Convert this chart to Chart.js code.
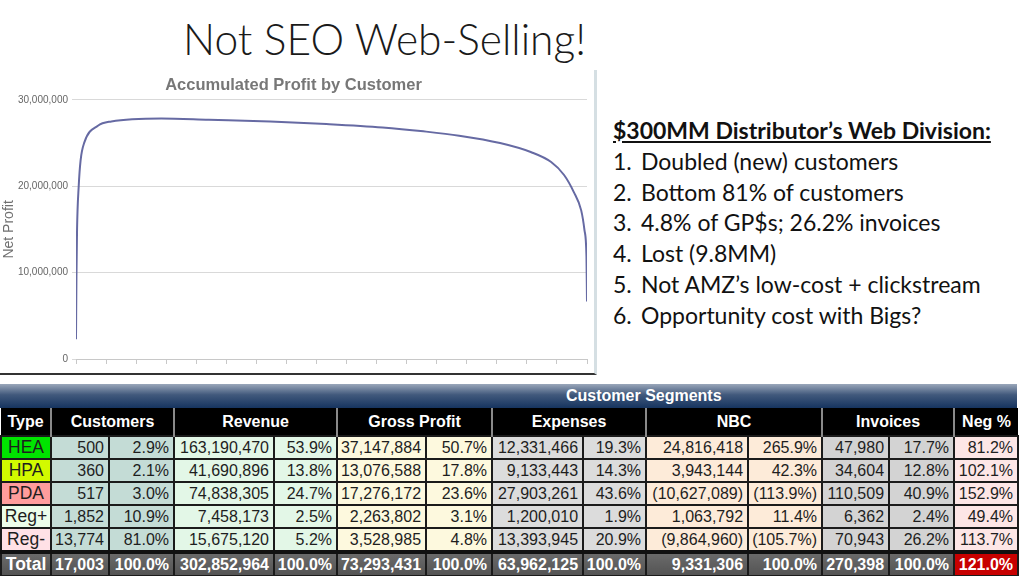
<!DOCTYPE html>
<html>
<head>
<meta charset="utf-8">
<script src="https://cdn.jsdelivr.net/npm/chart.js@4.4.1/dist/chart.umd.min.js"></script>
<style>
  html, body { margin: 0; padding: 0; }
  body {
    width: 1024px; height: 576px; overflow: hidden; background: #fff;
    position: relative; font-family: "Liberation Sans", Arial, sans-serif;
  }
  #title {
    position: absolute; left: 183px; top: 17px; margin: 0;
    font: 300 42.5px/44px Lato, sans-serif; color: #1a1a1a; white-space: nowrap;
  }
  #chart-box {
    position: absolute; left: 0; top: 70px; width: 594px; height: 303px;
    border-right: 3px solid #d5dfe3; border-bottom: 2px solid #333;
  }
  #notes {
    position: absolute; left: 613px; top: 115px;
    font: 23px/30.8px Lato, sans-serif; color: #111; white-space: nowrap;
  }
  #notes .head { font-weight: 700; text-decoration: underline; }
  #notes .num { display: inline-block; width: 28px; }

  #seg { position: absolute; left: 0; top: 384px; width: 1017px; }
  #seg .bar {
    height: 24px; line-height: 24px; color: #fff; font-weight: bold; font-size: 16px;
    background: linear-gradient(#9aa7ba, #41597c 45%, #16345f);
    position: relative;
  }
  #seg .bar span { position: absolute; left: 566px; }
  table { border-collapse: collapse; table-layout: fixed; width: 1017px; font-size: 16px; }
  th {
    background: #000; color: #fff; font-weight: bold; height: 27px; padding: 0;
    border-left: 2px solid #8a8a8a; font-size: 16px;
  }
  th:first-child { border-left: none; }
  td {
    height: 20.5px; padding: 0 4px 0 0; text-align: right; color: #1e1e1e;
    border: 2px solid #1b1b1b; white-space: nowrap; overflow: hidden;
  }
  td.t { text-align: center; padding: 0; font-size: 17.5px; }
  .c { background: #c4dcd6; }
  .r { background: #e3f7e7; }
  .g { background: #fdf9de; }
  .e { background: #dcdcdc; }
  .n { background: #fdebd9; }
  .i { background: #d3d3d3; }
  .p { background: #fde6e6; }
  tr.total td {
    background: linear-gradient(#6a6a6a, #545454); color: #fff; font-weight: bold;
    border-top: 4px solid #111;
  }
  tr.total td.red { background: #c70000; }
  tr.tail td { height: 4px; border-bottom: none; background: #c4dcd6; }
  tr.tail td:first-child { background: #1f8ad0; }
</style>
</head>
<body>
<h1 id="title">Not SEO Web-Selling!</h1>

<div id="chart-box"><canvas id="profitChart" width="594" height="303"></canvas></div>

<div id="notes">
  <div class="head">$300MM Distributor’s Web Division:</div>
  <div><span class="num">1.</span>Doubled (new) customers</div>
  <div><span class="num">2.</span>Bottom 81% of customers</div>
  <div><span class="num">3.</span>4.8% of GP$s; 26.2% invoices</div>
  <div><span class="num">4.</span>Lost (9.8MM)</div>
  <div><span class="num">5.</span>Not AMZ’s low-cost + clickstream</div>
  <div><span class="num">6.</span>Opportunity cost with Bigs?</div>
</div>

<div id="seg">
  <div class="bar"><span>Customer Segments</span></div>
  <table>
    <colgroup>
      <col style="width:50px"><col style="width:58px"><col style="width:65px">
      <col style="width:100px"><col style="width:63px"><col style="width:89px">
      <col style="width:66px"><col style="width:91px"><col style="width:63px">
      <col style="width:102px"><col style="width:74px"><col style="width:67px">
      <col style="width:65px"><col style="width:64px">
    </colgroup>
    <tr>
      <th>Type</th><th colspan="2">Customers</th><th colspan="2">Revenue</th>
      <th colspan="2">Gross Profit</th><th colspan="2">Expenses</th><th colspan="2">NBC</th>
      <th colspan="2">Invoices</th><th>Neg %</th>
    </tr>
    <tr>
      <td class="t" style="background:#00e400">HEA</td>
      <td class="c">500</td><td class="c">2.9%</td>
      <td class="r">163,190,470</td><td class="r">53.9%</td>
      <td class="g">37,147,884</td><td class="g">50.7%</td>
      <td class="e">12,331,466</td><td class="e">19.3%</td>
      <td class="n">24,816,418</td><td class="n">265.9%</td>
      <td class="i">47,980</td><td class="i">17.7%</td>
      <td class="p">81.2%</td>
    </tr>
    <tr>
      <td class="t" style="background:#d2fa00">HPA</td>
      <td class="c">360</td><td class="c">2.1%</td>
      <td class="r">41,690,896</td><td class="r">13.8%</td>
      <td class="g">13,076,588</td><td class="g">17.8%</td>
      <td class="e">9,133,443</td><td class="e">14.3%</td>
      <td class="n">3,943,144</td><td class="n">42.3%</td>
      <td class="i">34,604</td><td class="i">12.8%</td>
      <td class="p">102.1%</td>
    </tr>
    <tr>
      <td class="t" style="background:#ff9c9c">PDA</td>
      <td class="c">517</td><td class="c">3.0%</td>
      <td class="r">74,838,305</td><td class="r">24.7%</td>
      <td class="g">17,276,172</td><td class="g">23.6%</td>
      <td class="e">27,903,261</td><td class="e">43.6%</td>
      <td class="n">(10,627,089)</td><td class="n">(113.9%)</td>
      <td class="i">110,509</td><td class="i">40.9%</td>
      <td class="p">152.9%</td>
    </tr>
    <tr>
      <td class="t" style="background:#ecfdea">Reg+</td>
      <td class="c">1,852</td><td class="c">10.9%</td>
      <td class="r">7,458,173</td><td class="r">2.5%</td>
      <td class="g">2,263,802</td><td class="g">3.1%</td>
      <td class="e">1,200,010</td><td class="e">1.9%</td>
      <td class="n">1,063,792</td><td class="n">11.4%</td>
      <td class="i">6,362</td><td class="i">2.4%</td>
      <td class="p">49.4%</td>
    </tr>
    <tr>
      <td class="t" style="background:#ffe1e6">Reg-</td>
      <td class="c">13,774</td><td class="c">81.0%</td>
      <td class="r">15,675,120</td><td class="r">5.2%</td>
      <td class="g">3,528,985</td><td class="g">4.8%</td>
      <td class="e">13,393,945</td><td class="e">20.9%</td>
      <td class="n">(9,864,960)</td><td class="n">(105.7%)</td>
      <td class="i">70,943</td><td class="i">26.2%</td>
      <td class="p">113.7%</td>
    </tr>
    <tr class="total">
      <td class="t">Total</td>
      <td>17,003</td><td>100.0%</td>
      <td>302,852,964</td><td>100.0%</td>
      <td>73,293,431</td><td>100.0%</td>
      <td>63,962,125</td><td>100.0%</td>
      <td>9,331,306</td><td>100.0%</td>
      <td>270,398</td><td>100.0%</td>
      <td class="red">121.0%</td>
    </tr>
    <tr class="tail">
      <td></td><td></td><td></td><td></td><td></td><td></td><td></td>
      <td></td><td></td><td></td><td></td><td></td><td></td><td></td>
    </tr>
  </table>
</div>

<script>
// customers ranked by net profit, and running total of net profit
const customerRank = [0, 15, 35, 90, 153, 281, 729, 1176, 2838, 4420, 6460, 8330,
  10200, 11560, 12750, 14110, 15130, 15810, 16240, 16560, 16810, 16920, 16985, 17003];
const accumProfit = [2300000, 9500000, 15000000, 20000000, 23000000, 25100000, 27000000,
  27500000, 27850000, 27700000, 27500000, 27200000, 26800000, 26350000, 25850000,
  25000000, 23960000, 22800000, 21300000, 19350000, 17200000, 14900000, 11850000, 6650000];
const profitTicks = [0, 10000000, 20000000, 30000000];

const points = customerRank.map((c, i) => ({ x: c, y: accumProfit[i] }));

new Chart(document.getElementById("profitChart"), {
  type: "line",
  data: {
    datasets: [{
      data: points,
      borderColor: "#666aa3",
      borderWidth: 2,
      pointRadius: 0,
      cubicInterpolationMode: "monotone",
      fill: false
    }]
  },
  options: {
    responsive: false,
    animation: false,
    layout: { padding: { left: 0, right: 7, top: 0, bottom: 9 } },
    plugins: {
      legend: { display: false },
      tooltip: { enabled: false },
      title: {
        display: true,
        text: "Accumulated Profit by Customer",
        color: "#777",
        font: { family: "Liberation Sans", size: 16.5, weight: "bold" },
        padding: { top: 6, bottom: 4 }
      }
    },
    scales: {
      x: {
        type: "linear",
        min: 0,
        max: 17003,
        ticks: { display: false, stepSize: 1000, includeBounds: false },
        grid: { drawOnChartArea: false, drawTicks: true, tickLength: 5, color: "#c8c8c8" },
        border: { display: true, color: "#c8c8c8" }
      },
      y: {
        min: 0,
        max: 30000000,
        afterBuildTicks: scale => { scale.ticks = profitTicks.map(v => ({ value: v })); },
        afterFit: scale => { scale.width = 76; },
        ticks: {
          color: "#666",
          font: { family: "Liberation Sans", size: 10 },
          padding: 4,
          callback: v => v.toLocaleString("en-US")
        },
        grid: { color: "#d9d9d9", tickLength: 4 },
        border: { display: false },
        title: {
          display: true,
          text: "Net Profit",
          color: "#707070",
          font: { family: "Liberation Sans", size: 14 },
          padding: { top: 1, bottom: 0 }
        }
      }
    }
  }
});
</script>
</body>
</html>
